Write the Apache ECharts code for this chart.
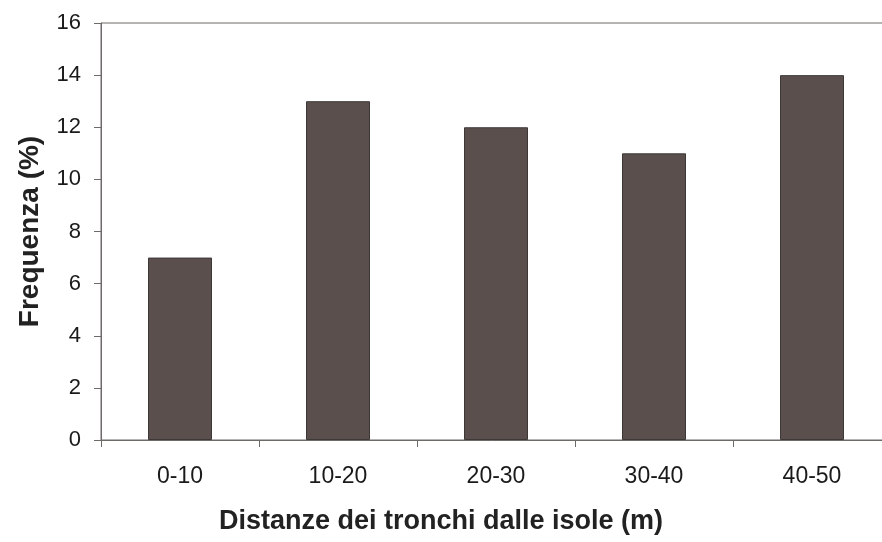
<!DOCTYPE html>
<html><head><meta charset="utf-8">
<script src="https://cdn.jsdelivr.net/npm/echarts@6/dist/echarts.min.js"></script>
<style>html,body{margin:0;padding:0;background:#fff}#c{width:882px;height:542px}</style>
</head><body><div id="c"></div>
<script>
const categories = ['0-10', '10-20', '20-30', '30-40', '40-50'];
const frequenza = [7, 13, 12, 11, 14];
const yTitle = 'Frequenza (%)';
const xTitle = 'Distanze dei tronchi dalle isole (m)';

const chart = echarts.init(document.getElementById('c'));
const axisColor = '#6e6a68';
chart.setOption({
  animation: false,
  backgroundColor: '#fff',
  grid: { left: 101, top: 23, width: 790, height: 417, outerBoundsMode: 'none', containLabel: false,
          show: true, borderColor: axisColor, borderWidth: 1, backgroundColor: 'transparent' },
  xAxis: {
    type: 'category', data: categories,
    axisLine: { lineStyle: { color: axisColor, width: 1 } },
    axisTick: { show: true, length: 7, lineStyle: { color: axisColor } },
    axisLabel: { margin: 25, color: '#1a1a1a', fontSize: 23, fontFamily: 'Liberation Sans' },
    splitLine: { show: false }
  },
  yAxis: {
    type: 'value', min: 0, max: 16, interval: 2,
    name: yTitle, nameLocation: 'middle', nameGap: 57,
    nameTextStyle: { fontSize: 28, fontWeight: 'bold', color: '#222', fontFamily: 'Liberation Sans' },
    axisLine: { show: true, lineStyle: { color: axisColor, width: 1 } },
    axisTick: { show: true, length: 7, lineStyle: { color: axisColor } },
    axisLabel: { margin: 20, color: '#1a1a1a', fontSize: 22, fontFamily: 'Liberation Sans' },
    splitLine: { show: false }
  },
  graphic: [{
    type: 'text', x: 441, y: 522,
    style: { text: xTitle, fontSize: 27, fontWeight: 'bold', fill: '#222', fontFamily: 'Liberation Sans',
             textAlign: 'center', textVerticalAlign: 'middle' }
  }],
  series: [{
    type: 'bar', data: frequenza, barWidth: 64,
    itemStyle: { color: '#5a4f4c', borderColor: '#3c3838', borderWidth: 1 }
  }]
});
</script></body></html>
